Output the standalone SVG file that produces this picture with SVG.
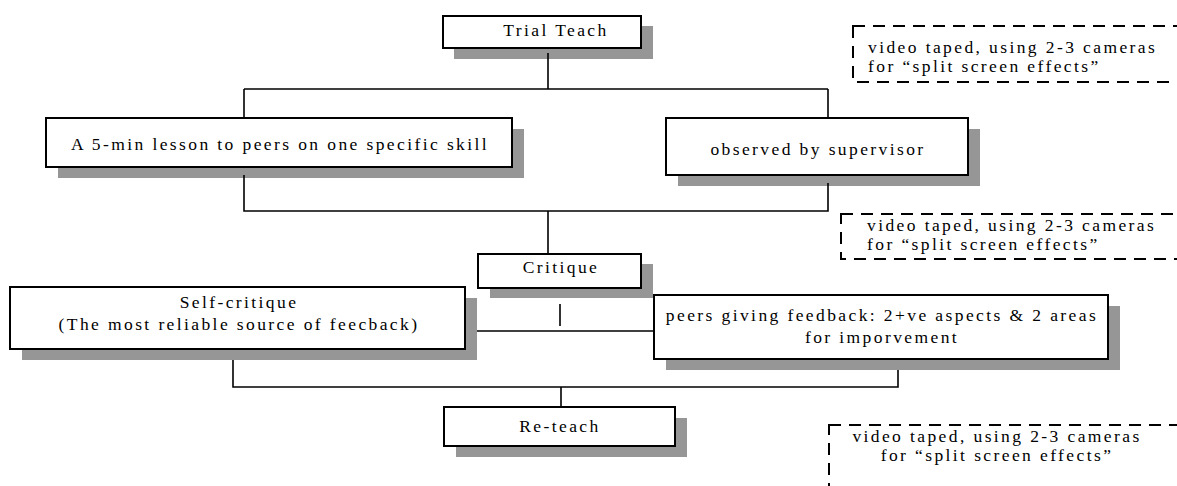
<svg xmlns="http://www.w3.org/2000/svg" width="1177" height="486" viewBox="0 0 1177 486">
<style>
.shadow{fill:#969696;stroke:none}
.box{fill:#fff;stroke:#000;stroke-width:2}
.dash{fill:none;stroke:#000;stroke-width:2;stroke-dasharray:12 8}
.conn{fill:none;stroke:#000;stroke-width:1.6}
text{font-family:"Liberation Serif","Times New Roman",serif;font-size:17.5px;letter-spacing:2.4px;fill:#000}
.m{text-anchor:middle}
</style>
<rect width="1177" height="486" fill="#fff"/>
<g id="trial-teach">
<rect class="shadow" x="454" y="26" width="199" height="33"/>
<rect class="box" x="443" y="16" width="198" height="32"/>
<text class="m" x="556" y="36">Trial Teach</text>
</g>
<g id="note-1">
<rect class="dash" x="853" y="26" width="340" height="56"/>
<text x="868" y="53">video taped, using 2-3 cameras</text>
<text x="868" y="72">for “split screen effects”</text>
</g>
<g id="lesson">
<rect class="shadow" x="58" y="129" width="466" height="49"/>
<rect class="box" x="46" y="118" width="466" height="49"/>
<text class="m" x="280" y="150">A 5-min lesson to peers on one specific skill</text>
</g>
<g id="observed">
<rect class="shadow" x="678" y="129" width="302" height="57"/>
<rect class="box" x="666" y="118" width="302" height="57"/>
<text class="m" x="818" y="155">observed by supervisor</text>
</g>
<g id="note-2">
<rect class="dash" x="841" y="214" width="350" height="45"/>
<text x="867" y="231">video taped, using 2-3 cameras</text>
<text x="867" y="250">for “split screen effects”</text>
</g>
<g id="critique">
<rect class="shadow" x="490" y="264" width="163" height="34"/>
<rect class="box" x="478" y="254" width="163" height="34"/>
<text class="m" x="561" y="273">Critique</text>
</g>
<g id="self-critique">
<rect class="shadow" x="22" y="298" width="455" height="62"/>
<rect class="box" x="10" y="287" width="455" height="62"/>
<text class="m" x="239" y="308">Self-critique</text>
<text class="m" x="239" y="330">(The most reliable source of feecback)</text>
</g>
<g id="peers">
<rect class="shadow" x="666" y="306" width="454" height="64"/>
<rect class="box" x="654" y="295" width="454" height="64"/>
<text class="m" x="882" y="321">peers giving feedback: 2+ve aspects &amp; 2 areas</text>
<text class="m" x="882" y="343">for imporvement</text>
</g>
<g id="re-teach">
<rect class="shadow" x="456" y="418" width="231" height="39"/>
<rect class="box" x="444" y="407" width="231" height="39"/>
<text class="m" x="560" y="432">Re-teach</text>
</g>
<g id="note-3">
<rect class="dash" x="829" y="425" width="365" height="80"/>
<text class="m" x="997" y="442">video taped, using 2-3 cameras</text>
<text class="m" x="997" y="461">for “split screen effects”</text>
</g>
<g id="connectors">
<path class="conn" d="M548 53V89M244 89H828M244 89V118M828 89V118"/>
<path class="conn" d="M244 175V211H828V183M548 211V254"/>
<path class="conn" d="M560 304V326M477 331H654"/>
<path class="conn" d="M233 360V387H898V370M561 387V407"/>
</g>
</svg>
